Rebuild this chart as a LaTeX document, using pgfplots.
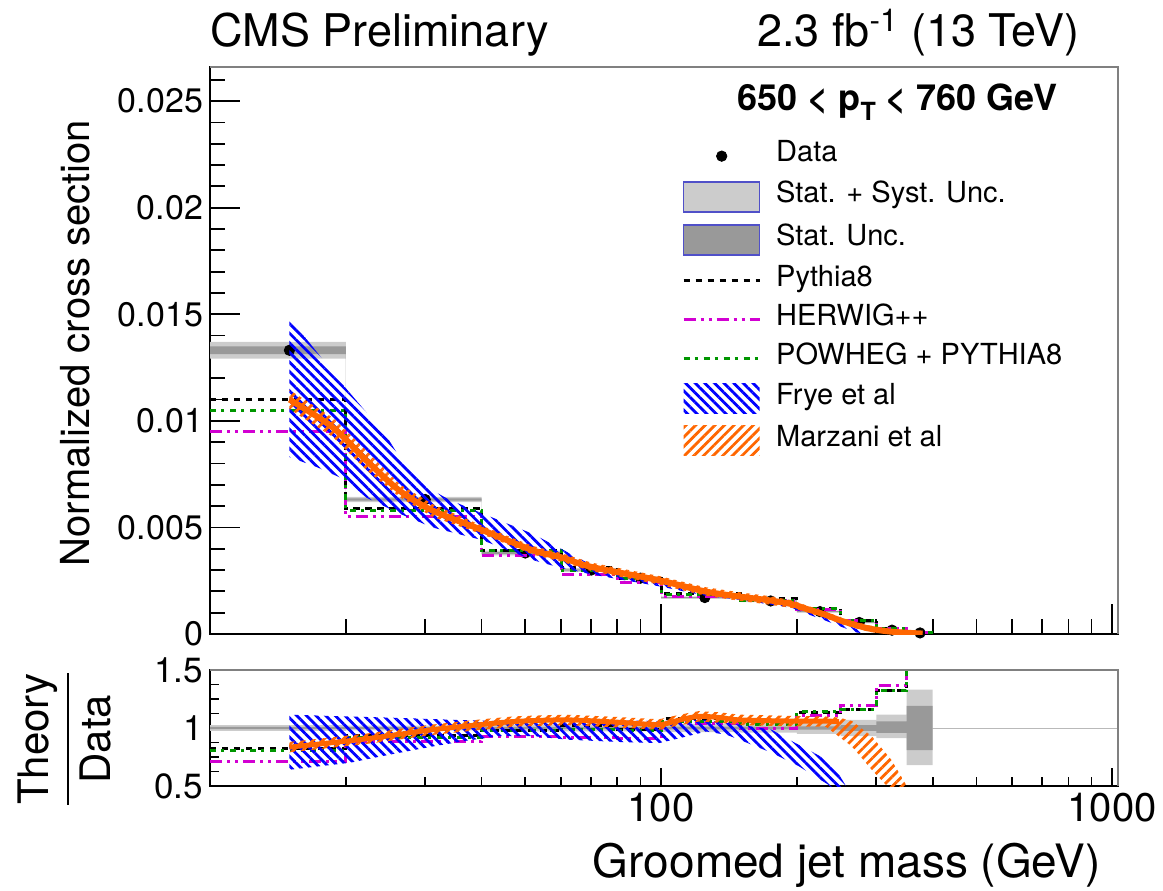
\documentclass[border=0pt]{standalone}
\usepackage{fontspec}
\setmainfont{TeX Gyre Heros}
\usepackage{pgfplots}
\pgfplotsset{compat=1.18}
\usetikzlibrary{patterns.meta}
\definecolor{lgray}{gray}{0.80}
\definecolor{dgray}{gray}{0.60}
\definecolor{rblue}{RGB}{0,0,255}
\definecolor{rorange}{RGB}{255,102,0}
\definecolor{rmag}{RGB}{210,0,210}
\definecolor{rgreen}{RGB}{0,150,0}
\definecolor{lbord}{RGB}{80,80,200}
\definecolor{framegray}{gray}{0.5}
\tikzset{
  pyth/.style={black, line width=1.5pt, dash pattern=on 3.2pt off 2.8pt},
  herw/.style={rmag, line width=1.5pt, dash pattern=on 6pt off 2.5pt on 1.5pt off 2.5pt on 1.5pt off 2.5pt},
  powh/.style={rgreen, line width=1.5pt, dash pattern=on 3pt off 2.5pt on 1.5pt off 3pt},
  fryeP/.style={pattern={Lines[angle=-45,distance=3.4pt,line width=1.4pt]}, pattern color=rblue},
  marzP/.style={pattern={Lines[angle=45,distance=3.4pt,line width=1.4pt]}, pattern color=rorange},
}
\newcommand{\ratiolabel}{{\setlength{\arrayrulewidth}{1pt}\begin{tabular}{@{}c@{}}Theory\\\hline Data\end{tabular}}}
\begin{document}
\begin{tikzpicture}
\path[use as bounding box] (-105pt,-128pt) rectangle (476.5pt,317pt);
\begin{axis}[name=main, at={(0pt,0pt)}, anchor=south west,
  scale only axis, width=454pt, height=283.5pt, xmode=log, xmin=10, xmax=1030,
  tick align=inside, xtick pos=left, ytick pos=left,
  axis line style={line width=1pt},
  tick style={black, line width=0.9pt},
  xtick={100,1000},
  minor xtick={20,30,40,50,60,70,80,90,200,300,400,500,600,700,800,900},
  clip mode=individual, scaled y ticks=false,
  ymin=0, ymax=0.0266,
  ytick={0,0.005,0.01,0.015,0.02,0.025},
  yticklabels={0,0.005,0.01,0.015,0.02,0.025},
  minor ytick={0.001,0.002,0.003,0.004,0.006,0.007,0.008,0.009,0.011,0.012,0.013,0.014,0.016,0.017,0.018,0.019,0.021,0.022,0.023,0.024,0.026},
  xticklabels={},
  major tick length=15pt, minor tick length=7.5pt,
  yticklabel style={font=\fontsize{17}{17}\selectfont},
  ylabel={Normalized cross section},
  every axis y label/.style={at={(rel axis cs:-0.1487,0.513)}, rotate=90, anchor=center, font=\fontsize{20}{20}\selectfont},
  legend cell align=left,
  legend style={at={(rel axis cs:0.5196,0.8673)}, anchor=north west, draw=none, fill=none,
    font=\fontsize{14.5}{14.5}\selectfont, row sep=5.9pt, column sep=7.5pt, inner sep=0pt,
    nodes={inner sep=0pt, text height=9.5pt, text depth=4pt}},
]
\addlegendimage{black, legend image code/.code={\fill (19pt,0pt) circle (2.6pt);}}
\addlegendentry{Data}
\addlegendimage{fill=lgray, draw=lbord, line width=0.6pt, legend image code/.code={\draw (0pt,-7.5pt) rectangle (38pt,7.5pt);}}
\addlegendentry{Stat. + Syst. Unc.}
\addlegendimage{fill=dgray, draw=lbord, line width=0.6pt, legend image code/.code={\draw (0pt,-7.5pt) rectangle (38pt,7.5pt);}}
\addlegendentry{Stat. Unc.}
\addlegendimage{pyth, legend image code/.code={\draw (0pt,0pt) -- (38pt,0pt);}}
\addlegendentry{Pythia8}
\addlegendimage{herw, legend image code/.code={\draw (0pt,0pt) -- (38pt,0pt);}}
\addlegendentry{HERWIG++}
\addlegendimage{powh, legend image code/.code={\draw (0pt,0pt) -- (38pt,0pt);}}
\addlegendentry{POWHEG + PYTHIA8}
\addlegendimage{fryeP, draw=none, legend image code/.code={\path[fryeP] (0pt,-7.5pt) rectangle (38pt,7.5pt);}}
\addlegendentry{Frye et al}
\addlegendimage{marzP, draw=none, legend image code/.code={\path[marzP] (0pt,-7.5pt) rectangle (38pt,7.5pt);}}
\addlegendentry{Marzani et al}
% data uncertainty bands
\addplot[fill=lgray, draw=none, forget plot] coordinates {(10,.0137)(20,.0137)(20,.00643)(40,.00643)(40,.00391)(60,.00391)(60,.00309)(80,.00309)(80,.0027)(100,.0027)(100,.00177)(150,.00177)(150,.00161)(200,.00161)(200,.0011)(250,.0011)(250,.00058)(300,.00058)(300,.0002)(350,.0002)(350,.000067)(400,.000067)
(400,.000033)(350,.000033)(350,.00016)(300,.00016)(300,.0005)(250,.0005)(250,.001)(200,.001)(200,.00149)(150,.00149)(150,.00165)(100,.00165)(100,.00254)(80,.00254)(80,.00291)(60,.00291)(60,.00369)(40,.00369)(40,.00619)(20,.00619)(20,.01292)(10,.01292)} -- cycle;
\addplot[fill=dgray, draw=none, forget plot] coordinates {(10,.01349)(20,.01349)(20,.00636)(40,.00636)(40,.00384)(60,.00384)(60,.00303)(80,.00303)(80,.00265)(100,.00265)(100,.00173)(150,.00173)(150,.00157)(200,.00157)(200,.00107)(250,.00107)(250,.00056)(300,.00056)(300,.00019)(350,.00019)(350,.00006)(400,.00006)
(400,.00004)(350,.00004)(350,.00017)(300,.00017)(300,.00052)(250,.00052)(250,.00103)(200,.00103)(200,.00153)(150,.00153)(150,.00169)(100,.00169)(100,.00259)(80,.00259)(80,.00297)(60,.00297)(60,.00376)(40,.00376)(40,.00626)(20,.00626)(20,.01313)(10,.01313)} -- cycle;
% data points
\addplot[only marks, mark=*, mark size=2.6pt, black, forget plot] coordinates {(15,0.01331)(30,0.00631)(50,0.0038)(70,0.0030)(90,0.00262)(125,0.00171)(175,0.00155)(225,0.00105)(275,0.00054)(325,0.00018)(375,0.00005)};
% MC generators
\addplot[const plot, pyth, forget plot] coordinates {(10,0.0110)(20,0.0059)(40,0.0039)(60,0.0031)(80,0.0026)(100,0.0019)(150,0.00165)(200,0.00119)(250,0.00063)(300,0.00024)(350,0.00008)(400,0.00008)};
\addplot[const plot, herw, forget plot] coordinates {(10,0.0095)(20,0.0055)(40,0.0037)(60,0.0028)(80,0.0024)(100,0.00178)(150,0.00155)(200,0.00116)(250,0.00064)(300,0.00025)(350,0.00009)(400,0.00009)};
\addplot[const plot, powh, forget plot] coordinates {(10,0.0105)(20,0.0058)(40,0.0039)(60,0.0030)(80,0.0026)(100,0.00185)(150,0.00158)(200,0.00118)(250,0.00063)(300,0.00024)(350,0.00008)(400,0.00008)};
% Frye et al
\addplot[fryeP, draw=none, forget plot] coordinates {(15,0.0147)(16,0.0141)(19.7,0.0117)(24.6,0.0093)(26.3,0.0083)(30.2,0.0069)(33.9,0.0063)(40.2,0.00565)(51.9,0.0047)(60,0.0040)(70,0.00325)(100,0.00258)(125,0.0021)(150,0.00185)(175,0.00158)(195,0.0014)(210,0.00118)(230,0.00088)(250,0.00055)(270,0.00025)(285,0.00002)
(285,0)(270,0.00008)(250,0.00035)(230,0.00065)(210,0.00095)(195,0.00122)(175,0.00138)(150,0.0016)(125,0.0018)(100,0.00222)(70,0.0028)(60,0.0031)(51.9,0.00347)(40.2,0.0044)(31.1,0.005)(26.3,0.00565)(22.2,0.0064)(20.1,0.0072)(17.2,0.00784)(15,0.0083)} -- cycle;
% Marzani et al
\addplot[marzP, draw=none, forget plot] coordinates {(15,0.01145)(18.7,0.01015)(22.2,0.0086)(26.3,0.00703)(31.1,0.0061)(40.2,0.00507)(51.9,0.00413)(60,0.0038)(70,0.00335)(99,0.00272)(125,0.0022)(150,0.00195)(175,0.00177)(195,0.00158)(210,0.00134)(230,0.00107)(250,0.00078)(270,0.00057)(290,0.0004)(320,0.00025)(350,0.00016)(380,0.00008)
(380,0)(350,0)(320,0)(290,0.0001)(270,0.00027)(250,0.00048)(230,0.00077)(210,0.00102)(195,0.00122)(175,0.00137)(150,0.00155)(125,0.0018)(99,0.00232)(70,0.00295)(60,0.0034)(51.9,0.00373)(40.2,0.00467)(31.1,0.0055)(26.3,0.00643)(22.2,0.0077)(18.7,0.00925)(15,0.01055)} -- cycle;
\addplot[rorange, line width=3pt, smooth, forget plot] coordinates {(15,0.0110)(18.7,0.0097)(22.2,0.00815)(26.3,0.00673)(31.1,0.0058)(40.2,0.00487)(51.9,0.00393)(60,0.0036)(70,0.00315)(99,0.00252)(125,0.0020)(150,0.00175)(175,0.00157)(195,0.0014)(210,0.00118)(230,0.00092)(250,0.00063)(270,0.00042)(290,0.00025)(320,0.00012)(350,0.00006)(380,0.00002)};
% frame and titles
\draw[framegray, line width=1pt] (rel axis cs:0,1) -- (rel axis cs:1,1) -- (rel axis cs:1,0);
\node[anchor=base west, inner sep=0pt, yshift=10pt, font=\fontsize{22.5}{22.5}\selectfont] at (rel axis cs:0,1) {CMS Preliminary};
\node[anchor=base east, inner sep=0pt, yshift=10pt, font=\fontsize{22.5}{22.5}\selectfont] at (rel axis cs:0.958,1) {2.3 fb\textsuperscript{-1} (13 TeV)};
\node[anchor=base, inner sep=0pt, font=\fontsize{18}{18}\selectfont\bfseries] at (rel axis cs:0.757,0.924) {650 < p\raisebox{-0.55ex}{\fontsize{12.5}{12.5}\selectfont T} < 760 GeV};
\end{axis}

\begin{axis}[name=ratio, at={(0pt,-18pt)}, anchor=north west,
  scale only axis, width=454pt, height=58pt, xmode=log, xmin=10, xmax=1030,
  tick align=inside, xtick pos=left, ytick pos=left,
  axis line style={line width=1pt},
  tick style={black, line width=0.9pt},
  xtick={100,1000},
  minor xtick={20,30,40,50,60,70,80,90,200,300,400,500,600,700,800,900},
  clip mode=individual,
  ymin=0.5, ymax=1.5, ytick={0.5,1,1.5}, yticklabels={0.5,1,1.5},
  minor ytick={0.625,0.75,0.875,1.125,1.25,1.375},
  xticklabels={100,1000},
  major tick length=9pt, minor tick length=4.7pt,
  yticklabel style={font=\fontsize{17.5}{17.5}\selectfont},
  xticklabel style={font=\fontsize{20}{20}\selectfont},
  xlabel={Groomed jet mass (GeV)},
  every axis x label/.style={at={(rel axis cs:0.989,-0.793)}, anchor=base east, font=\fontsize{23}{23}\selectfont},
  ylabel={\ratiolabel},
  every axis y label/.style={at={(rel axis cs:-0.1564,0.405)}, rotate=90, anchor=center, font=\fontsize{21}{30}\selectfont},
]
\addplot[gray!55, line width=0.5pt, forget plot] coordinates {(10,1)(1030,1)};
\addplot[fill=lgray, draw=none, forget plot] coordinates {(10,1.025)(20,1.025)(20,1.02)(40,1.02)(40,1.03)(60,1.03)(80,1.03)(100,1.03)(100,1.035)(150,1.035)(150,1.04)(200,1.04)(200,1.05)(250,1.05)(250,1.07)(300,1.07)(300,1.115)(350,1.115)(350,1.33)(400,1.33)
(400,0.68)(350,0.68)(350,0.913)(300,0.913)(300,0.93)(250,0.93)(250,0.95)(200,0.95)(200,0.96)(150,0.96)(150,0.965)(100,0.965)(100,0.97)(40,0.97)(40,0.98)(20,0.98)(20,0.975)(10,0.975)} -- cycle;
\addplot[fill=dgray, draw=none, forget plot] coordinates {(10,1.01)(20,1.01)(20,1.008)(40,1.008)(40,1.01)(100,1.01)(100,1.012)(200,1.012)(200,1.015)(250,1.015)(250,1.025)(300,1.025)(300,1.057)(350,1.057)(350,1.19)(400,1.19)
(400,0.81)(350,0.81)(350,0.957)(300,0.957)(300,0.975)(250,0.975)(250,0.985)(200,0.985)(200,0.988)(100,0.988)(100,0.99)(40,0.99)(40,0.992)(20,0.992)(20,0.99)(10,0.99)} -- cycle;
\addplot[const plot, pyth, forget plot] coordinates {(10,0.827)(20,0.935)(40,0.98)(60,1.02)(80,0.99)(100,1.08)(150,1.06)(200,1.13)(250,1.16)(300,1.32)(350,1.62)(400,1.62)};
\addplot[const plot, herw, forget plot] coordinates {(10,0.71)(20,0.88)(40,0.93)(60,0.92)(80,0.91)(100,1.04)(150,1.0)(200,1.11)(250,1.19)(300,1.37)(350,1.7)(400,1.7)};
\addplot[const plot, powh, forget plot] coordinates {(10,0.806)(20,0.92)(40,0.98)(60,0.99)(80,0.98)(100,1.06)(150,1.03)(200,1.14)(250,1.16)(300,1.32)(350,1.62)(400,1.62)};
\addplot[fryeP, draw=none, forget plot] coordinates {(15,1.115)(20,1.10)(26.3,1.087)(35,1.07)(43.8,1.06)(61.6,1.07)(80,1.065)(99,1.06)(115,1.07)(126,1.07)(149,1.03)(176,0.985)(192,0.90)(215,0.80)(239,0.70)(256,0.51)(270,0.35)
(250,0.40)(235,0.51)(202,0.67)(176,0.785)(149,0.90)(140,0.94)(126,0.97)(112,0.92)(99,0.87)(80,0.88)(61.6,0.90)(52,0.93)(43.8,0.93)(37,0.89)(31.1,0.84)(25,0.77)(20.4,0.70)(15,0.64)} -- cycle;
\addplot[marzP, draw=none, forget plot] coordinates {(15,0.88)(22.2,0.952)(31.1,1.03)(40,1.075)(47.7,1.102)(61.6,1.115)(80,1.095)(99,1.075)(110,1.115)(121,1.145)(135,1.135)(149,1.115)(192,1.105)(230,1.10)(248,1.09)(265,1.06)(293,0.93)(324,0.725)(348,0.52)(370,0.30)
(335,0.30)(315,0.51)(293,0.64)(265,0.84)(232,1.01)(192,1.015)(149,1.025)(135,1.045)(121,1.055)(110,1.025)(99,0.985)(80,1.005)(61.6,1.025)(47.7,1.012)(40,0.985)(31.1,0.94)(22.2,0.862)(15,0.79)} -- cycle;
\addplot[rorange, line width=2.5pt, smooth, forget plot] coordinates {(15,0.835)(22.2,0.907)(31.1,0.985)(40,1.03)(47.7,1.057)(61.6,1.07)(80,1.05)(99,1.03)(110,1.07)(121,1.10)(135,1.09)(149,1.07)(192,1.06)(230,1.06)(248,1.055)};
\draw[framegray, line width=1pt] (rel axis cs:0,1) -- (rel axis cs:1,1) -- (rel axis cs:1,0);
\end{axis}
\end{tikzpicture}
\end{document}
